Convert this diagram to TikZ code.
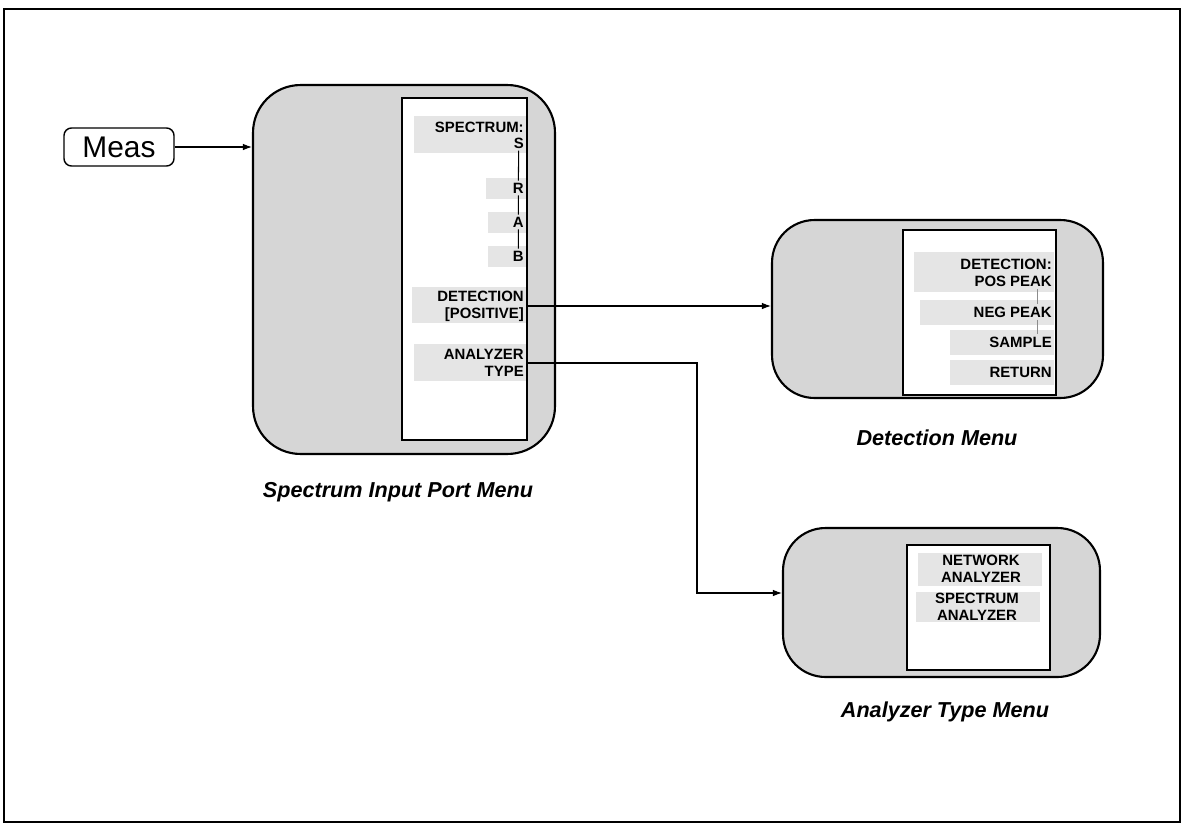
\documentclass[tikz,border=0pt]{standalone}
\usepackage{fontspec}
\setmainfont{Liberation Sans}
\usetikzlibrary{arrows.meta}

\begin{document}
\begin{tikzpicture}[x=0.02cm,y=-0.02cm,line width=0.6pt,>={Latex[length=1.8mm,width=1.3mm]},
  panel/.style={draw,line width=1.2pt,fill=black!16,rounded corners=0.95cm},
  screen/.style={draw,line width=0.8pt,fill=white},
  key/.style={font=\bfseries\fontsize{8.5}{9.8}\selectfont,align=right,inner sep=1pt,anchor=east},
  shade/.style={fill=black!10},
  title/.style={font=\bfseries\itshape\fontsize{12.3}{14}\selectfont}]
  \useasboundingbox (0,0) rectangle (1183,829);
  % marco
  \draw[line width=1pt] (4,9) rectangle (1180,822);
  % tecla
  \node[draw,rounded corners=0.15cm,line width=0.8pt,minimum width=2.2cm,minimum height=0.76cm,
    font=\fontsize{17}{19}\selectfont] (meas) at (119,147) {Meas};
  % menu de puerto
  \node[panel,minimum width=6.04cm,minimum height=7.38cm] (spec) at (404,269.5) {};
  \node[screen,minimum width=2.5cm,minimum height=6.84cm] (specScr) at (464.5,269) {};
  \fill[shade] (414,116) rectangle (526,153);
  \fill[shade] (486,178) rectangle (526,199);
  \fill[shade] (488,212) rectangle (526,233);
  \fill[shade] (488,246) rectangle (526,267);
  \fill[shade] (412,287) rectangle (526,323);
  \fill[shade] (414,344) rectangle (526,381);
  \node[key] (kSpec) at (526,127) {SPECTRUM:};
  \node[key] (kS) at (526,143) {S};
  \node[key] (kR) at (526,188) {R};
  \node[key] (kA) at (526,222) {A};
  \node[key] (kB) at (526,256) {B};
  \node[key] (kDet) at (526,306) {DETECTION\\{[POSITIVE]}};
  \node[key] (kAna) at (526,363) {ANALYZER\\TYPE};
  \draw (kS) -- (kR) -- (kA) -- (kB);
  \node[title] (tSpec) at (398,492) {Spectrum Input Port Menu};
  % menu de deteccion
  \node[panel,rounded corners=0.85cm,minimum width=6.62cm,minimum height=3.56cm] (det) at (937.5,309) {};
  \node[screen,minimum width=3.06cm,minimum height=3.3cm] (detScr) at (979.5,312.5) {};
  \fill[shade] (914,252) rectangle (1054,292);
  \fill[shade] (920,300) rectangle (1054,325);
  \fill[shade] (950,330) rectangle (1054,355);
  \fill[shade] (950,360) rectangle (1054,385);
  \node[key] (dPos) at (1054,273) {DETECTION:\\POS PEAK};
  \node[key] (dNeg) at (1054,312) {NEG PEAK};
  \node[key] (dSamp) at (1054,342) {SAMPLE};
  \node[key] (dRet) at (1054,372) {RETURN};
  \coordinate (tk) at (1037,0);
  \draw[thin,black!45] (dPos.south -| tk) -- (dNeg.north -| tk);
  \draw[thin,black!45] (dNeg.south -| tk) -- (dSamp.north -| tk);
  \node[title] (tDet) at (937,438) {Detection Menu};
  % menu de tipo de analizador
  \node[panel,rounded corners=0.85cm,minimum width=6.34cm,minimum height=2.98cm] (ana) at (941.5,602.5) {};
  \node[screen,minimum width=2.86cm,minimum height=2.5cm] (anaScr) at (978.5,607.5) {};
  \fill[shade] (918,553) rectangle (1042,586);
  \fill[shade] (916,592) rectangle (1040,622);
  \node[key,anchor=center,align=center] (aNet) at (981,569) {NETWORK\\ANALYZER};
  \node[key,anchor=center,align=center] (aSpec) at (977,607) {SPECTRUM\\ANALYZER};
  \node[title] (tAna) at (945,712) {Analyzer Type Menu};
  % flechas
  \draw[->] (meas) -- (meas -| spec.west);
  \draw[->] (kDet.east) -- (kDet.east -| det.west);
  \coordinate (bend) at (697,593);
  \draw[->] (kAna.east) -| (bend) -- (bend -| ana.west);
\end{tikzpicture}
\end{document}
